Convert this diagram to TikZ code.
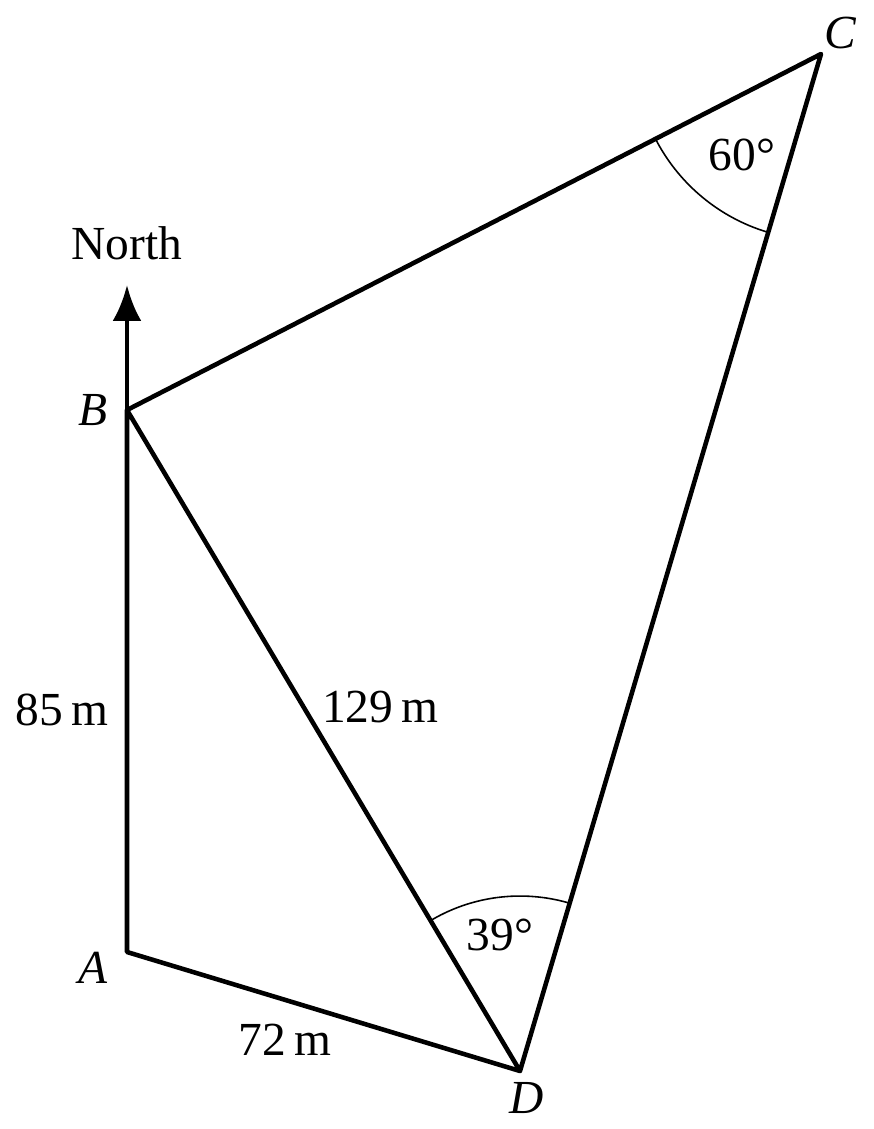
\documentclass[tikz,border=0pt]{standalone}
\usepackage{fontspec}
\setmainfont{Liberation Serif}
\usetikzlibrary{arrows.meta}
\begin{document}
\begin{tikzpicture}[x=0.02cm,y=-0.02cm,
  side/.style={line width=2.6pt,line join=round,line cap=round},
  anglearc/.style={line width=0.9pt},
  lbl/.style={inner sep=0pt,font=\fontsize{27}{32}\selectfont},
  vlbl/.style={inner sep=0pt,font=\fontsize{27}{32}\selectfont\itshape}]
\useasboundingbox (0,0) rectangle (874,1129);
\coordinate (A) at (127,952);
\coordinate (B) at (127,410);
\coordinate (C) at (821,54);
\coordinate (D) at (520,1071);
\coordinate (N) at (127,285);
\begin{scope}
  \clip (B) -- (C) -- (D) -- cycle;
  \draw[anglearc] (C) circle (3.72cm);
  \draw[anglearc] (D) circle (3.5cm);
\end{scope}
\draw[side] (B) -- (A) -- (D) -- (B) -- (C) -- (D);
\draw[side,-{Latex[length=0.72cm,width=0.58cm]}] (B) -- (N);
\node[lbl] (north) at (127,243) {North};
\node[vlbl] (lB) at (93,410) {B};
\node[vlbl] (lA) at (93,968) {A};
\node[vlbl] (lC) at (840,33) {C};
\node[vlbl] (lD) at (527,1098) {D};
\node[lbl] (l85) at (62,710) {85\,m};
\node[lbl] (l129) at (380,707) {129\,m};
\node[lbl] (l72) at (285,1040) {72\,m};
\node[lbl] (a60) at (742,155) {60°};
\node[lbl] (a39) at (500,935) {39°};
\end{tikzpicture}
\end{document}
